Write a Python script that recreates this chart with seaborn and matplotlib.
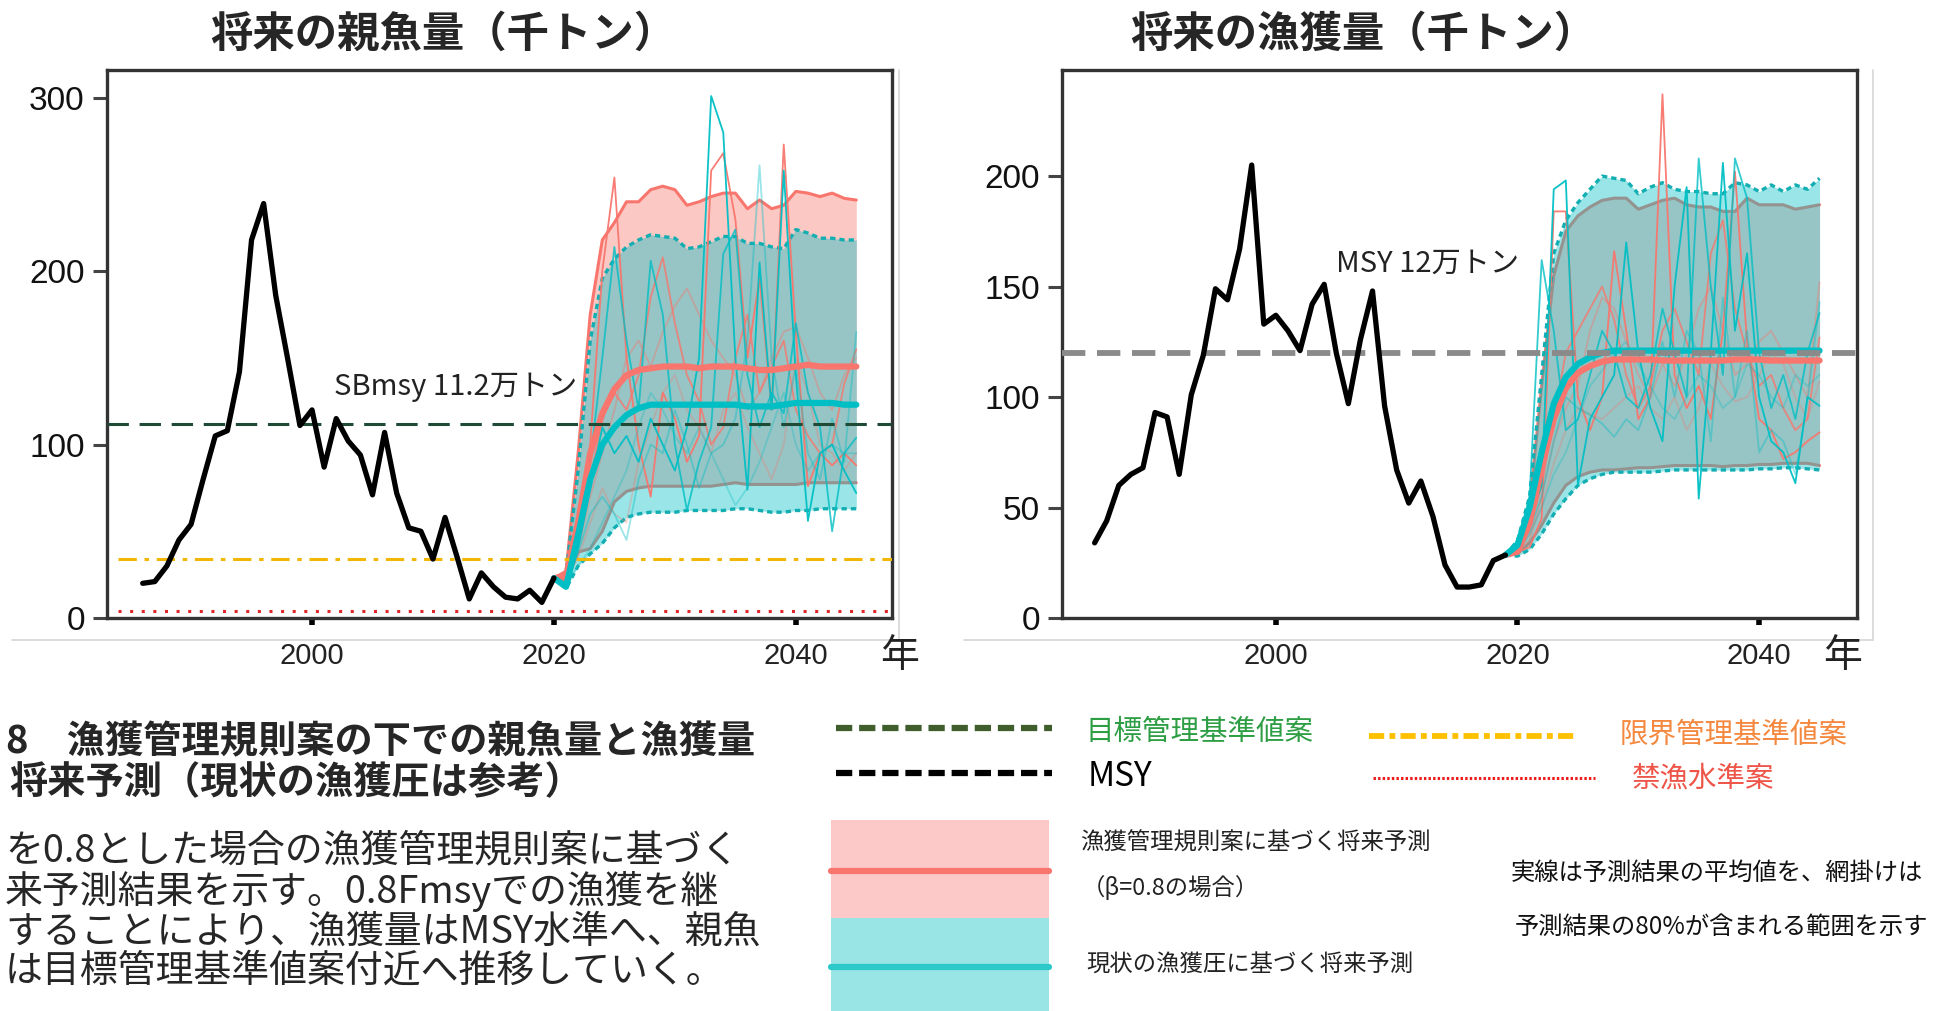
import pandas as pd
import seaborn as sns
import matplotlib.pyplot as plt
from matplotlib.lines import Line2D
from matplotlib.patches import Rectangle

sns.set_theme(style="white")
plt.rcParams['font.family'] = ['Noto Sans CJK JP', 'DejaVu Sans']

RED = "#F8766D"
TEAL = "#00BFC4"

# ---- historical series (thousand tons) ----
ssb_years = list(range(1986, 2021))
ssb = [20, 21, 30, 45, 54, 80, 105, 108, 142, 218, 239, 186, 149, 111, 120,
       87, 115, 102, 94, 71, 107, 72, 52, 50, 34, 58, 35, 11, 26, 18,
       12, 11, 16, 9, 23]
catch_years = list(range(1985, 2020))
catch = [34, 44, 60, 65, 68, 93, 91, 65, 101, 119, 149, 144, 167, 205, 133,
         137, 130, 121, 142, 151, 120, 97, 126, 148, 96, 67, 52, 62, 46, 24,
         14, 14, 15, 26, 28.5]

# ---- projections: spawning biomass (2020-2045) ----
proj_years_l = list(range(2020, 2046))
red_hi_l = [23, 27, 95, 175, 218, 228, 240, 240, 247, 249, 247, 238, 240,
            243, 245, 245, 236, 241, 236, 238, 246, 245, 243, 245, 242, 241]
red_lo_l = [23, 21, 38, 40, 50, 67, 73, 75, 76, 76, 76, 76, 76, 76, 77, 78,
            77, 77, 77, 77, 77, 78, 78, 78, 78, 78]
red_mean_l = [23, 24, 55, 95, 118, 132, 140, 143, 144, 145, 145, 145, 144,
              145, 145, 145, 144, 143, 143, 144, 145, 146, 145, 145, 145, 145]
teal_hi_l = [23, 25, 85, 160, 196, 207, 214, 218, 221, 220, 219, 213, 214,
             217, 220, 220, 216, 216, 214, 213, 224, 222, 219, 219, 218, 218]
teal_lo_l = [23, 17, 30, 37, 43, 52, 58, 60, 61, 61, 61, 62, 62, 62, 62, 63,
             63, 62, 61, 61, 62, 62, 63, 63, 63, 63]
teal_mean_l = [23, 18, 48, 80, 100, 110, 117, 121, 123, 123, 123, 123, 123,
               123, 123, 123, 122, 122, 122, 123, 124, 124, 124, 124, 123, 123]
red_sims_l = [
    [23, 18, 50, 100, 200, 254, 150, 100, 70, 130, 115, 90, 105, 258, 268,
     230, 150, 196, 120, 273, 164, 76, 95, 88, 95, 88],
    [23, 20, 45, 80, 115, 130, 120, 140, 185, 208, 170, 140, 125, 100, 110,
     150, 175, 130, 145, 160, 120, 105, 95, 100, 135, 155],
    [23, 22, 40, 70, 95, 120, 150, 160, 145, 165, 180, 190, 175, 160, 150,
     140, 120, 130, 150, 165, 168, 150, 130, 120, 140, 150],
    [23, 21, 35, 55, 75, 60, 55, 90, 110, 130, 140, 120, 110, 95, 120, 130,
     110, 95, 80, 100, 150, 130, 100, 95, 85, 95],
]
teal_sims_l = [
    [23, 18, 40, 75, 110, 95, 105, 90, 115, 100, 85, 110, 150, 301, 280, 150,
     74, 205, 120, 258, 140, 56, 95, 100, 85, 72],
    [23, 18, 45, 90, 150, 214, 160, 120, 206, 175, 100, 62, 90, 110, 210,
     224, 140, 110, 130, 118, 170, 130, 110, 50, 95, 104],
    [23, 18, 38, 60, 70, 60, 45, 80, 100, 95, 120, 100, 75, 95, 100, 115,
     160, 261, 150, 110, 145, 95, 80, 115, 90, 165],
    [23, 20, 30, 40, 55, 70, 85, 110, 130, 120, 105, 95, 110, 95, 80, 65, 75,
     90, 110, 130, 100, 85, 95, 100, 95, 95],
]

# ---- projections: catch (2019-2045) ----
proj_years_r = list(range(2019, 2046))
red_hi_r = [28.5, 33, 50, 105, 155, 175, 182, 186, 189, 190, 190, 185, 187,
            189, 190, 187, 186, 186, 184, 184, 190, 187, 187, 187, 185, 186, 187]
red_lo_r = [28.5, 29, 34, 42, 52, 60, 64, 66, 67, 67, 67.5, 68, 68, 68.5, 69,
            69, 69, 69, 68.5, 69, 69, 69.5, 69.5, 70, 70, 70, 69]
red_mean_r = [28.5, 30, 43, 68, 90, 104, 111, 114, 116, 117, 117, 117, 117,
              116.5, 116.5, 116.5, 116.5, 116.5, 116.5, 117, 117, 117, 116.5,
              116.5, 116.5, 116.5, 116.5]
teal_hi_r = [28.5, 35, 55, 110, 165, 180, 188, 194, 200, 199, 198, 192, 195,
             197, 194, 193, 193, 192, 192, 197, 196, 193, 196, 193, 196, 194, 199]
teal_lo_r = [28.5, 28, 31, 38, 47, 54, 60, 63, 65, 66, 66, 66, 66, 66.5, 67,
             67, 67, 67, 67, 67, 67, 67.5, 67.5, 68, 68, 67.5, 67]
teal_mean_r = [28.5, 33, 50, 75, 97, 109, 115, 118, 120, 121, 121, 121, 121,
               121, 121, 121, 121, 121, 121, 121, 121, 121, 121, 121, 121, 121, 121]
red_sims_r = [
    [28.5, 30, 32, 45, 184, 184, 100, 85, 100, 166, 130, 90, 100, 237, 110,
     95, 105, 90, 130, 202, 125, 90, 85, 72, 75, 80, 84],
    [28.5, 31, 40, 60, 90, 120, 130, 140, 150, 135, 110, 95, 105, 130, 140,
     125, 110, 165, 180, 140, 120, 105, 110, 95, 85, 90, 127],
    [28.5, 30, 35, 55, 80, 95, 105, 130, 145, 140, 125, 110, 100, 115, 105,
     120, 140, 150, 130, 110, 115, 125, 130, 120, 110, 100, 152],
    [28.5, 30, 38, 50, 70, 85, 95, 92, 90, 95, 100, 105, 95, 90, 100, 85, 95,
     115, 105, 98, 100, 110, 120, 115, 100, 90, 107],
]
teal_sims_r = [
    [28.5, 35, 45, 60, 194, 198, 60, 90, 100, 110, 170, 120, 95, 80, 150, 195,
     54, 120, 206, 130, 165, 100, 80, 75, 61, 100, 96],
    [28.5, 33, 55, 162, 130, 85, 90, 110, 130, 120, 100, 95, 110, 140, 120,
     100, 208, 150, 110, 208, 190, 120, 95, 110, 90, 120, 138],
    [28.5, 32, 40, 55, 80, 100, 95, 92, 88, 82, 90, 85, 100, 125, 100, 130,
     120, 80, 145, 100, 130, 75, 85, 80, 65, 98, 143],
    [28.5, 30, 38, 50, 65, 75, 90, 105, 112, 120, 125, 115, 105, 95, 90, 100,
     110, 105, 95, 100, 115, 110, 100, 95, 110, 105, 110],
]
sim_alpha = [0.95, 0.8, 0.4, 0.3]

sbmsy = 112
sblimit = 34
sbban = 4
msy = 120

W, H = 1939, 1011
fig = plt.figure(figsize=(W / 100, H / 100), dpi=100)


def fx(x):
    return x / W


def fy(y):
    return 1 - y / H


axL = fig.add_axes([fx(107), fy(618), (892 - 107) / W, (618 - 70) / H])
axR = fig.add_axes([fx(1062), fy(618), (1857 - 1062) / W, (618 - 70) / H])


def projection(ax, yrs, r_hi, r_lo, r_mean, t_hi, t_lo, t_mean, r_sims, t_sims):
    ax.fill_between(yrs, r_lo, r_hi, color=RED, alpha=0.4, lw=0, zorder=1)
    ax.plot(yrs, r_hi, color=RED, lw=2.2, zorder=1.2)
    ax.plot(yrs, r_lo, color=RED, lw=2.2, zorder=1.2)
    ax.fill_between(yrs, t_lo, t_hi, color=TEAL, alpha=0.4, lw=0, zorder=1.5)
    ax.plot(yrs, t_hi, color="#12AEB2", lw=2.4, dashes=(1.6, 1.2), zorder=1.6)
    ax.plot(yrs, t_lo, color="#12AEB2", lw=2.4, dashes=(1.6, 1.2), zorder=1.6)
    for i in range(len(r_sims)):
        sns.lineplot(x=yrs, y=r_sims[i], ax=ax, color=RED, lw=1.3,
                     alpha=sim_alpha[i], zorder=2)
        sns.lineplot(x=yrs, y=t_sims[i], ax=ax, color=TEAL, lw=1.3,
                     alpha=sim_alpha[i], zorder=2.1)
    sns.lineplot(x=yrs, y=r_mean, ax=ax, color=RED, lw=4.5, zorder=4)
    sns.lineplot(x=yrs, y=t_mean, ax=ax, color=TEAL, lw=4.5, zorder=4.1)


def style_axes(ax, xlim, ylim, yticks):
    ax.set_xlim(*xlim)
    ax.set_ylim(*ylim)
    ax.set_xticks([2000, 2020, 2040])
    ax.set_yticks(yticks)
    ax.set_xlabel("")
    ax.set_ylabel("")
    for s in ax.spines.values():
        s.set_visible(True)
        s.set_color("#333333")
        s.set_linewidth(2.4)
    ax.tick_params(axis="y", left=True, length=10, width=2.2, color="#444444",
                   labelsize=24, pad=6, labelcolor="#111111")
    ax.tick_params(axis="x", bottom=True, length=5, width=4, color="black",
                   labelsize=21, pad=12, labelcolor="#222222")
    for lab in ax.get_xticklabels() + ax.get_yticklabels():
        lab.set_fontfamily(["Liberation Sans", "DejaVu Sans"])
    ax.grid(False)


# ---- left panel: spawning biomass ----
projection(axL, proj_years_l, red_hi_l, red_lo_l, red_mean_l, teal_hi_l,
           teal_lo_l, teal_mean_l, red_sims_l, teal_sims_l)
xl = (1983.05, 2047.95)
frac = (1984 - xl[0]) / (xl[1] - xl[0])
axL.axhline(sbmsy, color="#1F4A36", lw=2.2, dashes=(7, 3.5), zorder=4.5)
axL.axhline(sblimit, xmin=frac, color="#F2B705", lw=2.2,
            dashes=(6, 2.5, 1.5, 2.5), zorder=4.5)
axL.axhline(sbban, xmin=frac, color="#E0262A", lw=2.2, dashes=(1, 2.8),
            zorder=4.5)
sns.lineplot(x=ssb_years, y=ssb, ax=axL, color="black", lw=3.8, zorder=5)
axL.text(2001.8, 133, "SBmsy 11.2万トン", fontsize=21, color="#222222",
         va="center", ha="left")
style_axes(axL, xl, (0, 316), [0, 100, 200, 300])

# ---- right panel: catch ----
projection(axR, proj_years_r, red_hi_r, red_lo_r, red_mean_r, teal_hi_r,
           teal_lo_r, teal_mean_r, red_sims_r, teal_sims_r)
axR.axhline(msy, color="#8A8A8A", lw=4.2, dashes=(4, 2), zorder=4.5)
sns.lineplot(x=catch_years, y=catch, ax=axR, color="black", lw=3.8, zorder=5)
axR.text(2005.0, 160.5, "MSY 12万トン", fontsize=21, color="#222222",
         va="center", ha="left")
style_axes(axR, (1982.3, 2048.1), (0, 248), [0, 50, 100, 150, 200])

# ---- titles / axis units ----
fig.text(fx(443), fy(35), "将来の親魚量（千トン）", fontsize=30.5,
         fontweight="bold", ha="center", va="center")
fig.text(fx(1363), fy(35), "将来の漁獲量（千トン）", fontsize=30.5,
         fontweight="bold", ha="center", va="center")
fig.text(fx(900), fy(656), "年", fontsize=28, ha="center", va="center",
         color="#222222")
fig.text(fx(1843), fy(656), "年", fontsize=28, ha="center", va="center",
         color="#222222")

# faint borders of the pasted plot images
for xs, ys in [((12, 899), (640, 640)), ((899, 899), (70, 640)),
               ((964, 1873), (640, 640)), ((1873, 1873), (70, 640))]:
    fig.add_artist(Line2D([fx(xs[0]), fx(xs[1])], [fy(ys[0]), fy(ys[1])],
                          color="#D6D6D6", lw=1.2))

# ---- caption (left part of the original caption is cropped away) ----
cap_bold = ["8　漁獲管理規則案の下での親魚量と漁獲量",
            "将来予測（現状の漁獲圧は参考）"]
cap_bold_x = [6, 9]
cap_body = ["を0.8とした場合の漁獲管理規則案に基づく",
            "来予測結果を示す。0.8Fmsyでの漁獲を継",
            "することにより、漁獲量はMSY水準へ、親魚",
            "は目標管理基準値案付近へ推移していく。"]
for txt, x, y in zip(cap_bold, cap_bold_x, [742, 783]):
    fig.text(fx(x), fy(y), txt, fontsize=27.5, fontweight="bold",
             ha="left", va="center")
fig.text(fx(5), fy(911), "\n".join(cap_body), fontsize=27.3, ha="left",
         va="center", linespacing=1.02)


# ---- legend ----
def leg_line(x0, x1, y, **kw):
    fig.add_artist(Line2D([fx(x0), fx(x1)], [fy(y), fy(y)], **kw))


leg_line(836, 1052, 728, color="#3F5E2C", lw=4.5, dashes=(2.6, 1.1))
leg_line(836, 1052, 773, color="black", lw=4.5, dashes=(2.6, 1.1))
leg_line(1369, 1577, 736, color="#FFC000", lw=4.2,
         dashes=(2.6, 0.9, 1.0, 0.9))
leg_line(1373, 1595, 778, color="#EE1C1C", lw=2.2, dashes=(0.8, 0.7))
fig.text(fx(1086), fy(732), "目標管理基準値案", fontsize=20.5,
         color="#2E9E44", va="center")
fig.text(fx(1088), fy(777), "MSY", fontsize=24, color="black", va="center")
fig.text(fx(1620), fy(735), "限界管理基準値案", fontsize=20.5,
         color="#F5883F", va="center")
fig.text(fx(1632), fy(778), "禁漁水準案", fontsize=20.5,
         color="#EE5548", va="center")

fig.add_artist(Rectangle((fx(831), fy(918)), 218 / W, 98 / H,
                         transform=fig.transFigure, facecolor="#FCC9C8",
                         edgecolor="none"))
fig.add_artist(Rectangle((fx(831), fy(1011)), 218 / W, 93 / H,
                         transform=fig.transFigure, facecolor="#99E5E6",
                         edgecolor="none"))
leg_line(831, 1049, 871, color=RED, lw=4.5)
leg_line(831, 1049, 967, color="#2DC9C9", lw=4.5)
fig.text(fx(1080), fy(843), "漁獲管理規則案に基づく将来予測", fontsize=16.8,
         color="#222222", va="center")
fig.text(fx(1082), fy(888), "（β=0.8の場合）", fontsize=16.8,
         color="#222222", va="center")
fig.text(fx(1086), fy(965), "現状の漁獲圧に基づく将来予測", fontsize=16.8,
         color="#222222", va="center")
fig.text(fx(1511), fy(873), "実線は予測結果の平均値を、網掛けは", fontsize=17.5,
         color="#111111", va="center")
fig.text(fx(1515), fy(927), "予測結果の80%が含まれる範囲を示す", fontsize=17.5,
         color="#111111", va="center")

fig.savefig("out.png", dpi=100)
